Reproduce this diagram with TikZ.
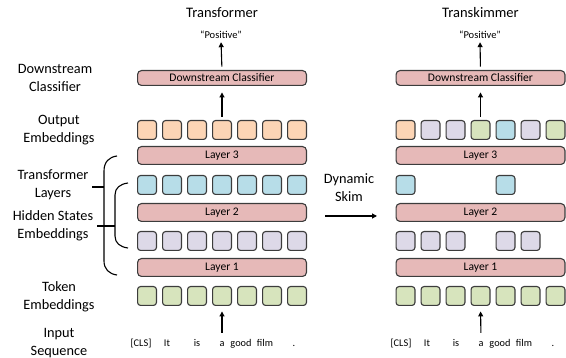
\documentclass[tikz,border=0pt]{standalone}
\usepackage{fontspec}
\setmainfont{Carlito}
\usetikzlibrary{arrows.meta}
\definecolor{cpeach}{HTML}{FCD5B5}
\definecolor{cblue}{HTML}{B7DDE8}
\definecolor{clav}{HTML}{DDD9E8}
\definecolor{cgreen}{HTML}{D7E4BD}
\definecolor{cpink}{HTML}{E6B9B8}
\definecolor{cline}{HTML}{3C3C3C}
\begin{document}
\begin{tikzpicture}[x=1pt,y=-1pt,
  sq/.style={draw=cline,line width=1.1pt,rounded corners=3pt,minimum width=18.9pt,minimum height=18.9pt,inner sep=0pt,outer sep=0pt},
  layerbox/.style={draw=cline,line width=1.1pt,rounded corners=4pt,fill=cpink,minimum width=168.9pt,minimum height=17.9pt,inner sep=0pt,outer sep=0pt,font=\fontsize{11.6}{13}\selectfont},
  clsbox/.style={layerbox,minimum height=14.9pt},
  lbl/.style={align=center,font=\fontsize{14.3}{18}\selectfont,inner sep=0pt},
  ttl/.style={font=\fontsize{14.5}{17}\selectfont,inner sep=0pt},
  posl/.style={font=\fontsize{10.5}{12}\selectfont,inner sep=0pt,text height=7pt,text depth=2pt},
  word/.style={font=\fontsize{10.3}{12}\selectfont,inner sep=0pt,text height=7pt,text depth=2pt,anchor=base},
  arr/.style={line width=1.1pt,-{Triangle[length=5pt,width=5pt]}},
  brace/.style={line width=1.1pt,black}]
\useasboundingbox (0,0) rectangle (566,358);

% ---------- left labels ----------
\node[lbl] (lDC) at (55,78) {Downstream\\Classifier};
\node[lbl] (lOE) at (59,130) {Output\\Embeddings};
\node[lbl] (lTL) at (53,185) {Transformer\\Layers};
\node[lbl] (lHS) at (53,226) {Hidden States\\Embeddings};
\node[lbl] (lTE) at (59,297) {Token\\Embeddings};
\node[lbl] (lIS) at (59,343) {Input\\Sequence};

% ---------- braces ----------
\draw[brace] (117,156) .. controls (109,157) and (104,162) .. (104,171) -- (104,261) .. controls (104,269) and (109,274) .. (117,275);
\draw[brace] (128,183) .. controls (120,184) and (115,188) .. (115,195) -- (115,236) .. controls (115,243) and (120,247) .. (128,248);
\coordinate (tkA) at (92,187);
\coordinate (tkB) at (104,187);
\coordinate (hsA) at (97,226);
\coordinate (hsB) at (115,226);
\draw[brace] (tkA) -- (tkB);
\draw[brace] (hsA) -- (hsB);

% ---------- left column: Transformer ----------
\node[ttl] (tL) at (222,13) {Transformer};
\node[posl] (pL) at (221,36) {“Positive”};
\node[clsbox] (cL) at (222,78) {Downstream Classifier};
\node[layerbox] (L3L) at (222,155.5) {Layer 3};
\node[layerbox] (L2L) at (222,212.5) {Layer 2};
\node[layerbox] (L1L) at (222,267.5) {Layer 1};
\foreach \i in {0,...,6} {
  \node[sq,fill=cpeach] (oL\i) at (147+25*\i,130) {};
  \node[sq,fill=cblue] (bL\i) at (147+25*\i,185) {};
  \node[sq,fill=clav] (hL\i) at (147+25*\i,241) {};
  \node[sq,fill=cgreen] (gL\i) at (147+25*\i,296) {};
}
\node[word] (wL0) at (141,347) {[CLS]};
\node[word] (wL1) at (167,347) {It};
\node[word] (wL2) at (197,347) {is};
\node[word] (wL3) at (222,347) {a};
\node[word] (wL4) at (241,347) {good};
\node[word] (wL5) at (265,347) {film};
\node[word] (wL6) at (294,347) {.};
\draw[arr,shorten <=4pt,shorten >=1.5pt] (cL.north) -- (pL.south);
\draw[arr,shorten <=4pt,shorten >=7pt] (oL3.north) -- (cL.south);
\draw[arr,shorten <=7pt,shorten >=6pt] (wL3.north) -- (gL3.south);

% ---------- middle ----------
\node[lbl] (dsk) at (349,188) {Dynamic\\Skim};
\coordinate (skA) at (325,216);
\coordinate (skB) at (377,216);
\draw[arr] (skA) -- (skB);

% ---------- right column: Transkimmer ----------
\node[ttl] (tR) at (480.5,13) {Transkimmer};
\node[posl] (pR) at (480,36) {“Positive”};
\node[clsbox] (cR) at (480.5,78) {Downstream Classifier};
\node[layerbox] (L3R) at (480.5,155.5) {Layer 3};
\node[layerbox] (L2R) at (480.5,212.5) {Layer 2};
\node[layerbox] (L1R) at (480.5,267.5) {Layer 1};
\foreach \i/\c in {0/cpeach,1/clav,2/clav,3/cgreen,4/cblue,5/clav,6/cgreen} {
  \node[sq,fill=\c] (oR\i) at (405.5+25*\i,130) {};
}
\foreach \i in {0,4} {
  \node[sq,fill=cblue] (bR\i) at (405.5+25*\i,185) {};
}
\foreach \i in {0,1,2,4,5} {
  \node[sq,fill=clav] (hR\i) at (405.5+25*\i,241) {};
}
\foreach \i in {0,...,6} {
  \node[sq,fill=cgreen] (gR\i) at (405.5+25*\i,296) {};
}
\node[word] (wR0) at (401,347) {[CLS]};
\node[word] (wR1) at (427,347) {It};
\node[word] (wR2) at (456,347) {is};
\node[word] (wR3) at (481,347) {a};
\node[word] (wR4) at (500,347) {good};
\node[word] (wR5) at (524,347) {film};
\node[word] (wR6) at (553,347) {.};
\draw[arr,shorten <=4pt,shorten >=1.5pt] (cR.north) -- (pR.south);
\draw[arr,shorten <=4pt,shorten >=7pt] (oR3.north) -- (cR.south);
\draw[arr,shorten <=7pt,shorten >=6pt] (wR3.north) -- (gR3.south);
\end{tikzpicture}
\end{document}
